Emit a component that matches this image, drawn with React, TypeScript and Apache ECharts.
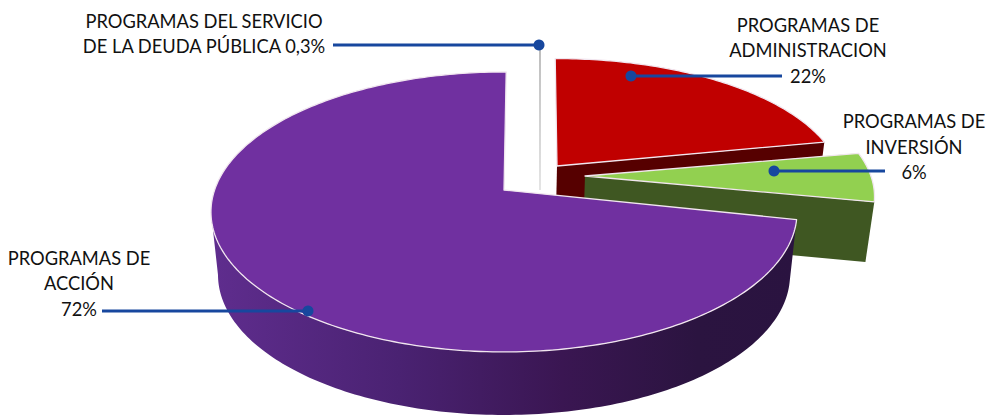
import React, { useEffect, useRef } from "react";
import * as echarts from "echarts";

const sliceNames = [
  "PROGRAMAS DEL SERVICIO DE LA DEUDA PÚBLICA",
  "PROGRAMAS DE ADMINISTRACION",
  "PROGRAMAS DE INVERSIÓN",
  "PROGRAMAS DE ACCIÓN",
];
const sliceValues = [0.3, 22, 6, 72];
const labelLines = [
  ["PROGRAMAS DEL SERVICIO", "DE LA DEUDA PÚBLICA 0,3%"],
  ["PROGRAMAS DE", "ADMINISTRACION", "22%"],
  ["PROGRAMAS DE", "INVERSIÓN", "6%"],
  ["PROGRAMAS DE", "ACCIÓN", "72%"],
];

// Projection of the disc to the picture
const START_ANGLE = 0.6;
const CENTER_X = 504;
const APEX_Y = 190;
const RADIUS = 289.4;
const PERSPECTIVE = 0.157;
const FORESHORTEN = -106.7;
const DEPTH_SHRINK = 0.976;

type Look = {
  ax: number; ay: number; sx: number; sy: number; rot: number; depth: number;
  top: string; side: any;
};

const sideGradient = () =>
  new echarts.graphic.LinearGradient(0, 0, 1, 0, [
    { offset: 0, color: "#5f2d8e" },
    { offset: 0.32, color: "#4a2272" },
    { offset: 0.6, color: "#3a1652" },
    { offset: 0.83, color: "#2b1440" },
    { offset: 1, color: "#2a1340" },
  ]);

const looks: Look[] = [
  { ax: 540, ay: 190, sx: 1, sy: 1.186, rot: -1.14, depth: 0, top: "#b4b4b4", side: null },
  { ax: 557, ay: 166, sx: 0.972, sy: 0.91, rot: -2.1, depth: 60, top: "#c00000", side: "#560000" },
  { ax: 585, ay: 176, sx: 0.988, sy: 0.95, rot: -1, depth: 60, top: "#92d050", side: "#3f5722" },
  { ax: 504, ay: 190, sx: 1, sy: 1, rot: -0.1, depth: 63, top: "#7030a0", side: "grad" },
];

function project(deg: number, look: Look): number[] {
  const t = (deg * Math.PI) / 180;
  const u = Math.sin(t);
  const v = Math.cos(t);
  const w = 1 + PERSPECTIVE * v;
  const x = (RADIUS * u) / w;
  const y = (FORESHORTEN * v + APEX_Y) / w - APEX_Y;
  return [look.ax + look.sx * x, look.ay + look.sy * y];
}

const lower = (p: number[], depth: number) => [
  CENTER_X + (p[0] - CENTER_X) * DEPTH_SHRINK,
  p[1] + depth,
];

function arc(a0: number, a1: number, look: Look): number[][] {
  const n = Math.max(2, Math.ceil(Math.abs(a1 - a0)));
  const pts: number[][] = [];
  for (let i = 0; i <= n; i++) pts.push(project(a0 + ((a1 - a0) * i) / n, look));
  return pts;
}

const total = sliceValues.reduce((a, b) => a + b, 0);

function renderSlice(params: any, api: any) {
  const i = params.dataIndex;
  const look = looks[i];
  const before = sliceValues.slice(0, i).reduce((a, b) => a + b, 0);
  const a0 = START_ANGLE + (before / total) * 360 + look.rot;
  const a1 = a0 + (api.value(0) / total) * 360;
  const apex = [look.ax, look.ay];
  const children: any[] = [];

  if (look.depth === 0) {
    // the sliver is so narrow that it reads as a single thin line
    const tip = project((a0 + a1) / 2, look);
    return {
      type: "polyline",
      shape: { points: [apex, tip] },
      style: {
        fill: null,
        lineWidth: 1.5,
        stroke: new echarts.graphic.LinearGradient(0, 0, 0, 1, [
          { offset: 0, color: "#a8a8a8" },
          { offset: 1, color: "#dcdcdc" },
        ]),
      },
    };
  }

  const rim = arc(a0, a1, look);
  if (look.side === "grad") {
    const LEFT_EXTREME = 261;
    const visible = arc(a0, LEFT_EXTREME, look);
    const under = visible.map((p) => lower(p, look.depth)).reverse();
    children.push({
      type: "polygon",
      shape: { points: [...visible, ...under] },
      style: { fill: sideGradient() },
    });
  } else {
    const end = rim[rim.length - 1];
    const wall = [apex, end, lower(end, look.depth), lower(apex, look.depth)];
    children.push({ type: "polygon", shape: { points: wall }, style: { fill: look.side } });
  }
  children.push({
    type: "polygon",
    shape: { points: [apex, ...rim] },
    style: { fill: look.top, stroke: "#f1e6ef", lineWidth: 1.3, lineJoin: "round" },
  });
  return { type: "group", children };
}

const leaderColor = "#17479e";
const leaders = [
  { x1: 333, x2: 539, y: 45, dot: 539 },
  { x1: 631, x2: 782, y: 76, dot: 631 },
  { x1: 774, x2: 885, y: 171, dot: 774 },
  { x1: 102, x2: 308, y: 311, dot: 308 },
];
const labelBoxes = [
  { x: 204, ys: [21, 46] },
  { x: 808, ys: [25, 50, 76] },
  { x: 914, ys: [121, 147, 172] },
  { x: 79, ys: [258, 283, 309] },
];

function overlay() {
  const out: any[] = [];
  leaders.forEach((l) => {
    out.push({
      type: "line",
      z: 10,
      shape: { x1: l.x1, y1: l.y, x2: l.x2, y2: l.y },
      style: { stroke: leaderColor, lineWidth: 2.9 },
    });
    out.push({
      type: "circle",
      z: 11,
      shape: { cx: l.dot, cy: l.y, r: 5.5 },
      style: { fill: leaderColor },
    });
  });
  labelLines.forEach((lines, i) => {
    lines.forEach((t, j) => {
      out.push({
        type: "text",
        z: 12,
        x: labelBoxes[i].x,
        y: labelBoxes[i].ys[j],
        style: {
          text: t,
          fill: "#111111",
          font: '18.3px Lato, "Open Sans", sans-serif',
          textAlign: "center",
          textVerticalAlign: "middle",
        },
      });
    });
  });
  return out;
}

export default function App() {
  const ref = useRef<HTMLDivElement>(null);
  useEffect(() => {
    const chart = echarts.init(ref.current!, null, { renderer: "svg" });
    chart.setOption({
      animation: false,
      backgroundColor: "#ffffff",
      series: [
        {
          type: "custom",
          coordinateSystem: "none",
          renderItem: renderSlice,
          data: sliceValues.map((v, i) => ({ name: sliceNames[i], value: [v] })),
          silent: true,
        },
      ],
      graphic: overlay(),
    });
    return () => chart.dispose();
  }, []);
  return (
    <div
      ref={ref}
      style={{ position: "absolute", left: 0, top: 0, width: 988, height: 416 }}
    />
  );
}
